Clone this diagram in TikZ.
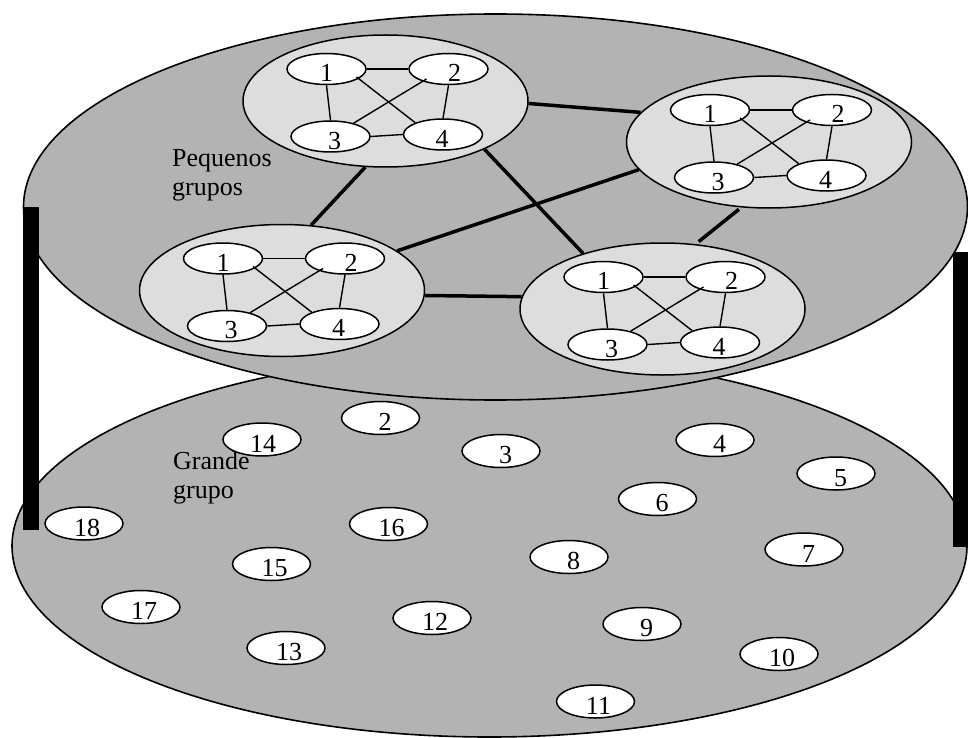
\documentclass[tikz,border=0pt]{standalone}
\usepackage{fontspec}
\setmainfont{Liberation Serif}
\usetikzlibrary{shapes.geometric,calc}

\definecolor{plategray}{RGB}{179,179,179}
\definecolor{clustergray}{RGB}{221,221,221}

% digit label: optional kern shifts it sideways, the raise sets it a little low
\newcommand{\gnum}[2][9pt]{\kern#1\raisebox{-12.8pt}[0pt][0pt]{#2}}

% one small group: light ellipse with four linked members
\newcommand{\smallgroup}[3]{%
  \node[cluster] (#1) at (#2,#3) {};
  \node[member] (#1a) at ($(#1)+(-59,-32)$) {\gnum[0pt]{1}};
  \node[member] (#1b) at ($(#1)+(63,-32)$) {\gnum[12pt]{2}};
  \node[member] (#1c) at ($(#1)+(-55,35.5)$) {\gnum[8pt]{3}};
  \node[member] (#1d) at ($(#1)+(57.5,33.5)$) {\gnum[-2pt]{4}};
  \draw[tie] (#1a.east) -- (#1b.west);
  \draw[tie] (#1a.south) -- (#1c.north);
  \draw[tie] (#1b.south) -- (#1d.north);
  \draw[tie] (#1c.east) -- (#1d.west);
  \draw[tie] ($(#1a)+(30,8)$) -- (#1d.157);
  \draw[tie] ($(#1b)+(-22,10)$) -- (#1c.30);
}

\tikzset{
  every node/.style={font=\fontsize{26}{29}\selectfont},
  plane/.style={ellipse, draw=black, line width=1.6pt, fill=plategray, inner sep=0pt},
  cluster/.style={ellipse, draw=black, line width=1.5pt, fill=clustergray,
    minimum width=285pt, minimum height=132pt, inner sep=0pt},
  member/.style={ellipse, draw=black, line width=1.5pt, fill=white,
    minimum width=79pt, minimum height=31pt, inner sep=0pt},
  person/.style={ellipse, draw=black, line width=1.5pt, fill=white,
    minimum width=78pt, minimum height=33pt, inner sep=0pt},
  tie/.style={line width=1.4pt},
  bridge/.style={line width=3.5pt},
  caption/.style={anchor=north west, inner sep=0pt, align=left}
}

\begin{document}
\begin{tikzpicture}[x=1pt, y=-1pt]
\useasboundingbox (0,0) rectangle (968,738);

% lower plane with its members
\node[plane, minimum width=955pt, minimum height=382pt] (lower) at (489.5,546) {};
\node[person] (p2)  at (380.5,418) {\gnum{2}};
\node[person] (p3)  at (501,451)   {\gnum{3}};
\node[person] (p4)  at (715,440)   {\gnum{4}};
\node[person] (p5)  at (836,473.5) {\gnum{5}};
\node[person] (p6)  at (657.5,499) {\gnum{6}};
\node[person] (p7)  at (804,549.5) {\gnum{7}};
\node[person] (p8)  at (569,557)   {\gnum{8}};
\node[person] (p9)  at (642,624)   {\gnum{9}};
\node[person] (p10) at (779,654)   {\gnum[6pt]{10}};
\node[person] (p11) at (595.5,701.5) {\gnum[6pt]{11}};
\node[person] (p12) at (432,618)   {\gnum[6pt]{12}};
\node[person] (p13) at (286,648)   {\gnum[6pt]{13}};
\node[person] (p14) at (262,439.5) {\gnum[2pt]{14}};
\node[person] (p15) at (271.5,564) {\gnum[6pt]{15}};
\node[person] (p16) at (388.5,524) {\gnum[6pt]{16}};
\node[person] (p17) at (141,607)   {\gnum[6pt]{17}};
\node[person] (p18) at (84,523.5)  {\gnum[6pt]{18}};
\node[caption] (biglabel) at (173,451.2) {Grande\\grupo};

% right post, its top hidden behind the upper plane
\fill[black] (953,252) rectangle (969,547);

% upper plane
\node[plane, minimum width=944pt, minimum height=386pt] (upper) at (495.5,207) {};

% left post, in front of both planes
\fill[black] (23,207) rectangle (39,530);

\node[caption] (smalllabel) at (172,148.8) {Pequenos\\grupos};

% the four small groups
\smallgroup{g1}{385.5}{101}
\smallgroup{g2}{769}{142}
\smallgroup{g3}{282}{290.5}
\smallgroup{g4}{662.5}{309}

% links between the groups
\draw[bridge] (g1.-1) -- (g2.167.6);
\draw[bridge] (g1.-107) -- (g3.66.5);
\draw[bridge] (g1.-26) -- (g4.145.2);
\draw[bridge] (g2.192.2) -- (g3.19.7);
\draw[bridge, shorten <=4pt, shorten >=3pt] (g4.63.4) -- (g2.-113.1);
\draw[bridge] (g3.-2.6) -- (g4.175.2);
\end{tikzpicture}
\end{document}
